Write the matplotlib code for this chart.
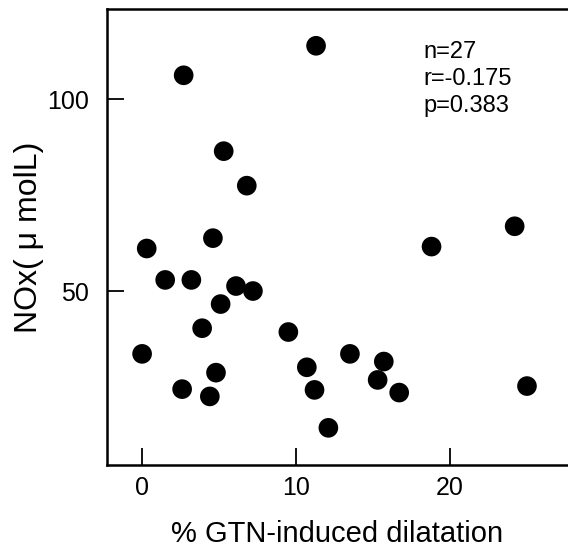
import numpy as np
import matplotlib.pyplot as plt

plt.rcParams['font.family'] = ['Liberation Sans', 'DejaVu Sans']

# % GTN-induced dilatation vs NOx
gtn = [11.3, 2.7, 5.3, 6.8, 24.2, 4.6, 18.8, 0.3, 1.5, 3.2, 6.1, 7.2, 5.1, 3.9,
       9.5, 0.0, 13.5, 15.7, 10.7, 4.8, 15.3, 25.0, 2.6, 11.2, 16.7, 4.4, 12.1]
nox = [114.0, 106.3, 86.5, 77.5, 66.9, 63.8, 61.6, 61.1, 52.9, 52.9, 51.3, 50.0, 46.6, 40.3,
       39.3, 33.6, 33.6, 31.6, 30.1, 28.7, 26.8, 25.2, 24.4, 24.2, 23.5, 22.5, 14.3]
stats = ['n=27', 'r=-0.175', 'p=0.383']

fig = plt.figure(figsize=(5.68, 5.56), dpi=100)
ax = fig.add_axes([107 / 568, 1 - 465 / 556, 460 / 568, 456 / 556])

ax.scatter(gtn, nox, s=200, c='black', edgecolors='none', zorder=3)

ax.set_xlim(-2.28, 27.6)
ax.set_ylim(4.6, 123.6)
ax.set_xticks([0, 10, 20])
ax.set_yticks([50, 100])
ax.tick_params(direction='in', length=12, width=1.3, labelsize=18)
ax.tick_params(axis='x', pad=8)
ax.tick_params(axis='y', pad=13)
for side in ['left', 'bottom', 'top']:
    ax.spines[side].set_linewidth(1.8)
ax.spines['right'].set_visible(False)

ax.text(0.687, 0.93, '\n'.join(stats), transform=ax.transAxes, fontsize=17,
        va='top', ha='left', linespacing=1.3)

ax.set_xlabel('% GTN-induced dilatation', fontsize=21, labelpad=14)
ax.set_ylabel('NOx( μ molL)', fontsize=23, labelpad=2)

fig.savefig('out.png', dpi=100)
